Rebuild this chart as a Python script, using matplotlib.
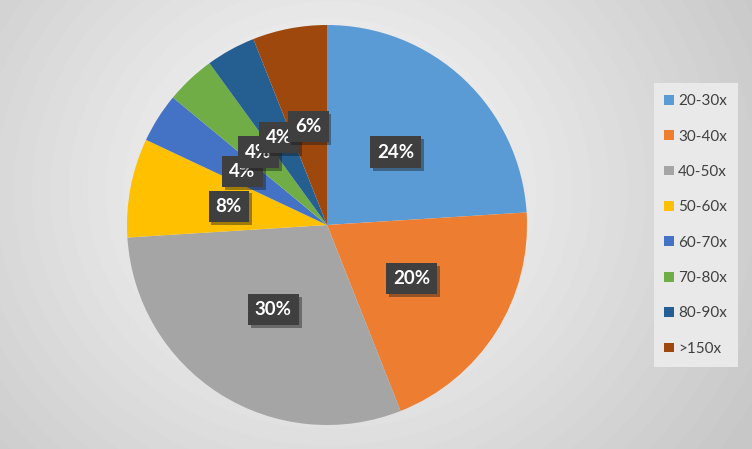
import matplotlib.pyplot as plt
import matplotlib.patheffects as pe
from matplotlib.patches import Patch
import numpy as np

plt.rcParams['font.family'] = ['Lato', 'DejaVu Sans']

# dados do gráfico
labels = ['20-30x', '30-40x', '40-50x', '50-60x', '60-70x', '70-80x', '80-90x', '>150x']
values = [24, 20, 30, 8, 4, 4, 4, 6]
colors = ['#5B9BD5', '#ED7D31', '#A5A5A5', '#FFC000', '#4472C4', '#70AD47', '#255E91', '#9E480E']

fig = plt.figure(figsize=(7.52, 4.49), dpi=100)

# fundo com gradiente radial
bg = fig.add_axes([0, 0, 1, 1])
yy, xx = np.mgrid[0:449, 0:752]
d = np.sqrt(((xx - 330) / 470.0) ** 2 + ((yy - 190) / 430.0) ** 2)
shade = np.clip(0.99 - 0.2 * d, 0.78, 1)
bg.imshow(shade, cmap='gray', vmin=0, vmax=1, aspect='auto')
bg.axis('off')

ax = fig.add_axes([127 / 752, 24 / 449, 400 / 752, 400 / 449])
wedges, texts, autotexts = ax.pie(values, colors=colors, startangle=90, counterclock=False,
                                  autopct='%d%%', pctdistance=0.5,
                                  wedgeprops=dict(linewidth=0))
for t in autotexts:
    t.set_color('white')
    t.set_fontweight('bold')
    t.set_fontsize(13.5)
    t.set_bbox(dict(boxstyle='square,pad=0.38', facecolor='#3f3f3f', edgecolor='none'))
    t.get_bbox_patch().set_path_effects([pe.SimplePatchShadow(offset=(2, -2), alpha=0.4), pe.Normal()])
ax.set_xlim(-1, 1)
ax.set_ylim(-1, 1)
ax.set_aspect('equal')

handles = [Patch(facecolor=c) for c in colors]
leg = fig.legend(handles, labels, loc='center left', bbox_to_anchor=(646 / 752, 224 / 449),
                 frameon=True, fontsize=11, labelspacing=1.4, handlelength=0.6, handleheight=0.6,
                 handletextpad=0.3, borderpad=0.7, fancybox=False)
leg.get_frame().set_facecolor('#e9e9e9')
leg.get_frame().set_edgecolor('none')
leg.get_frame().set_alpha(1)
for t in leg.get_texts():
    t.set_color('#404040')

fig.savefig('out.png', dpi=100)
